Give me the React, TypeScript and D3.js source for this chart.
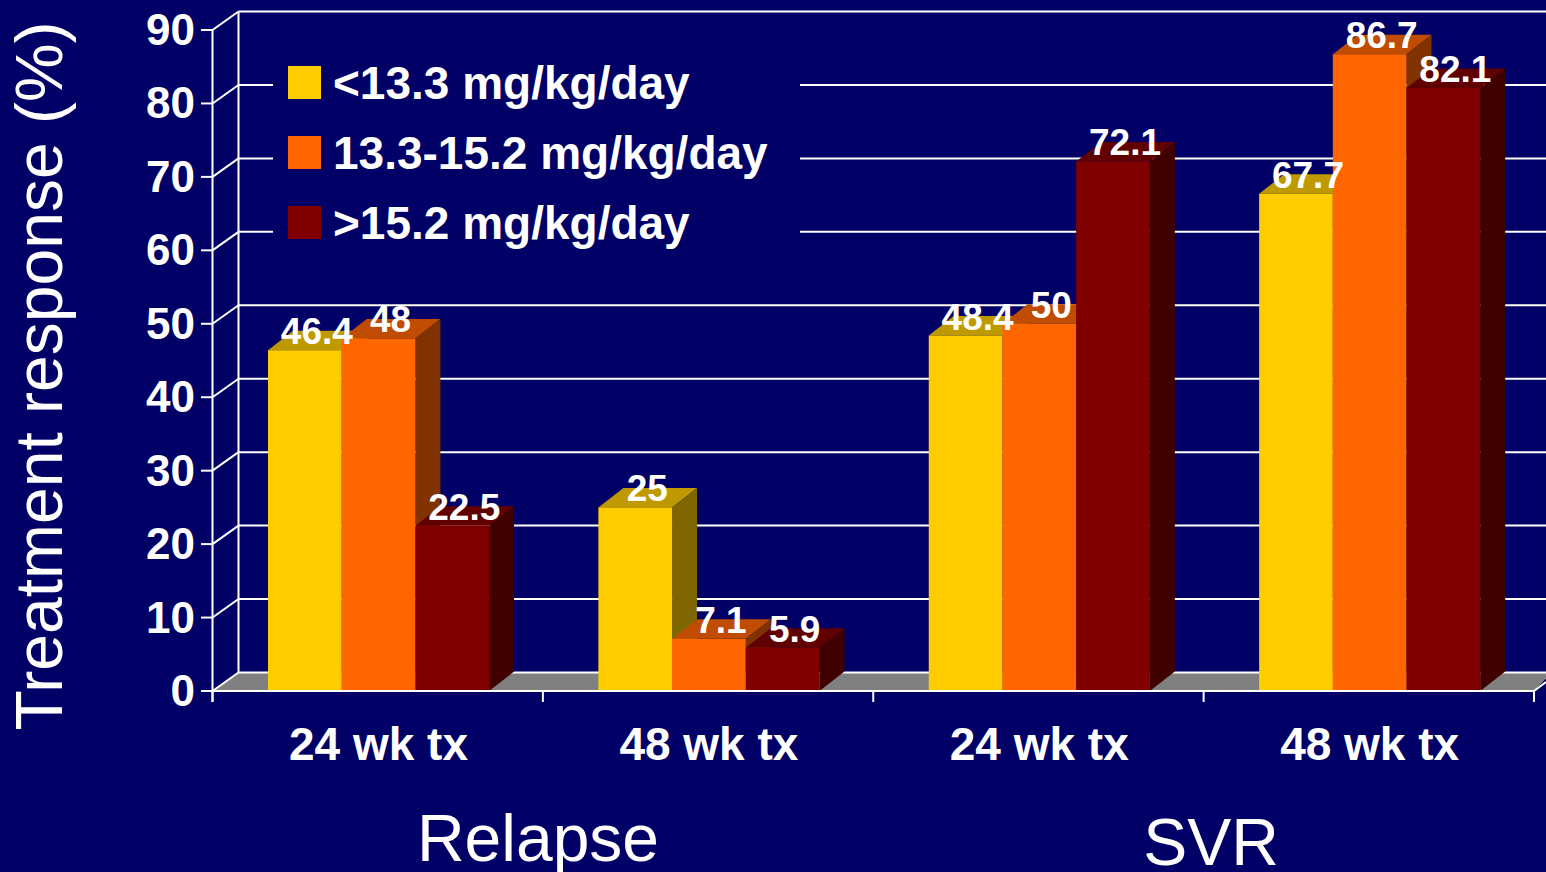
import React from "react";
import * as d3 from "d3";

const groups = ["24 wk tx", "48 wk tx", "24 wk tx", "48 wk tx"];
const seriesNames = ["<13.3 mg/kg/day", "13.3-15.2 mg/kg/day", ">15.2 mg/kg/day"];
const low = [46.4, 25, 48.4, 67.7];
const mid = [48, 7.1, 50, 86.7];
const high = [22.5, 5.9, 72.1, 82.1];
const labels = [["46.4", "25", "48.4", "67.7"], ["48", "7.1", "50", "86.7"], ["22.5", "5.9", "72.1", "82.1"]];
const yTicks = [0, 10, 20, 30, 40, 50, 60, 70, 80, 90];
const front = ["#ffcc00", "#ff6600", "#800000"];
const topC = ["#bf9900", "#bf4c00", "#600000"];
const sideC = ["#806600", "#803300", "#400000"];
const NAVY = "#000066";
const FONT = "'Liberation Sans', Arial, sans-serif";

const y = d3.scaleLinear().domain([0, 90]).range([691, 30]);
const x = d3.scaleBand<number>().domain([0, 1, 2, 3]).range([212.5, 1534]);
const dx = 26, dy = 18.5, bx = 25, by = 19.5, barW = 73.7, inset = 55.5;

export default function App() {
  const series = [low, mid, high];
  return (
    <svg width={1546} height={872} style={{ position: "absolute", left: 0, top: 0, background: NAVY, display: "block" }} fontFamily={FONT}>
      <rect width={1546} height={872} fill={NAVY} />
      <polygon points={`${212.5},691 ${212.5 + dx},${691 - dy} 1546,${691 - dy} 1546,${691 - dy + 6} 1534,691`} fill="#808080" />
      {yTicks.map((t) => (
        <g key={t} stroke="#fff" strokeWidth={2} fill="none">
          {t > 0 && <line x1={212.5 + dx} x2={1546} y1={y(t) - dy} y2={y(t) - dy} />}
          <line x1={212.5} x2={212.5 + dx} y1={y(t)} y2={y(t) - dy} />
          <line x1={201} x2={212.5} y1={y(t)} y2={y(t)} />
        </g>
      ))}
      <line x1={212.5 + dx} x2={1546} y1={691 - dy} y2={691 - dy} stroke="#fff" strokeWidth={2} />
      <line x1={212.5} x2={212.5} y1={30} y2={702} stroke="#fff" strokeWidth={2} />
      <line x1={212.5 + dx} x2={212.5 + dx} y1={12} y2={673} stroke="#fff" strokeWidth={2} />
      <rect x={273} y={50} width={527} height={205} fill={NAVY} />
      {series.map((vals, s) => vals.map((v, g) => {
        const x0 = (x(g) as number) + inset + s * barW;
        const x1 = x0 + barW, yt = y(v), yb = 691;
        return (
          <g key={`${s}-${g}`}>
            <polygon points={`${x0},${yt} ${x0 + bx},${yt - by} ${x1 + bx},${yt - by} ${x1},${yt}`} fill={topC[s]} />
            <polygon points={`${x1},${yt} ${x1 + bx},${yt - by} ${x1 + bx},${yb - by} ${x1},${yb}`} fill={sideC[s]} />
            <rect x={x0} y={yt} width={barW} height={yb - yt} fill={front[s]} />
          </g>
        );
      }))}
      <line x1={212.5} x2={1534} y1={691} y2={691} stroke="#fff" strokeWidth={2} />
      {[0, 1, 2, 3].map((g) => (
        <line key={g} x1={x(g)} x2={x(g)} y1={691} y2={702} stroke="#fff" strokeWidth={2} />
      ))}
      <line x1={1534} x2={1534} y1={691} y2={702} stroke="#fff" strokeWidth={2} />
      <line x1={1534} x2={1546} y1={691} y2={691 - 9} stroke="#fff" strokeWidth={2} />
      {series.map((vals, s) => vals.map((v, g) => (
        <text key={`${s}-${g}`} x={(x(g) as number) + inset + (s + 0.5) * barW + 12} y={y(v) - 6} textAnchor="middle" fill="#fff" fontWeight="bold" fontSize={37}>{labels[s][g]}</text>
      )))}
      {yTicks.map((t) => (
        <text key={t} x={195} y={y(t) + 15} textAnchor="end" fill="#fff" fontWeight="bold" fontSize={44}>{t}</text>
      ))}
      {groups.map((g, i) => (
        <text key={i} x={(x(i) as number) + 166} y={760} textAnchor="middle" fill="#fff" fontWeight="bold" fontSize={46}>{g}</text>
      ))}
      {seriesNames.map((n, i) => (
        <g key={n}>
          <rect x={288} y={66 + i * 70} width={33} height={33} fill={front[i]} />
          <text x={333} y={99 + i * 70} fill="#fff" fontWeight="bold" fontSize={46}>{n}</text>
        </g>
      ))}
      <text transform="translate(62,376) rotate(-90)" textAnchor="middle" fill="#fff" fontSize={66}>Treatment response (%)</text>
      <text x={538} y={861} textAnchor="middle" fill="#fff" fontSize={66}>Relapse</text>
      <text x={1211} y={865} textAnchor="middle" fill="#fff" fontSize={66}>SVR</text>
    </svg>
  );
}
